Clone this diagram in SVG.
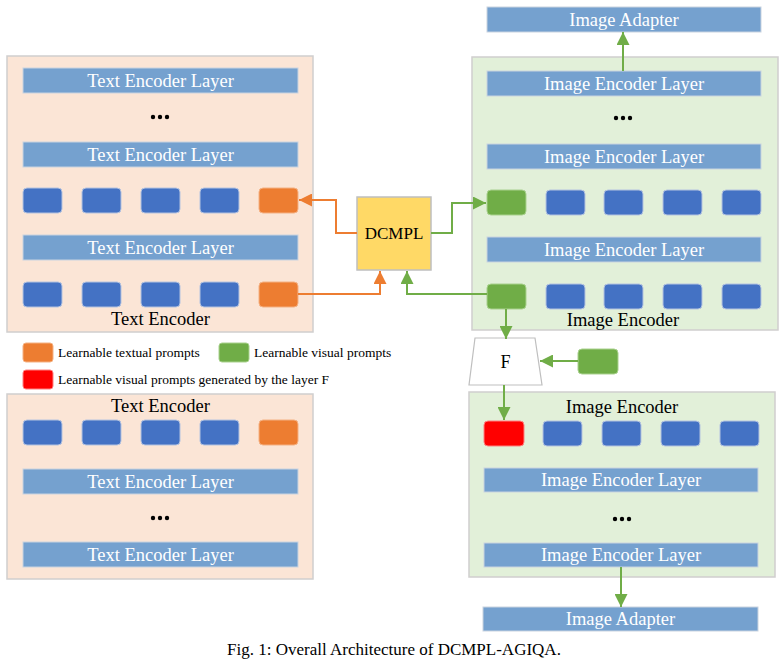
<svg xmlns="http://www.w3.org/2000/svg" width="784" height="662" viewBox="0 0 784 662">
<defs>
<style>
.tbox{fill:#FBE5D6;stroke:#D0CECE;stroke-width:1.5}
.ibox{fill:#E2F0D9;stroke:#D0CECE;stroke-width:1.5}
.layer{fill:#75A1CF;stroke:#C9D3E0;stroke-width:1}
.ltxt{font-family:"Liberation Serif",serif;font-size:18.5px;fill:#fff;text-anchor:middle}
.btxt{font-family:"Liberation Serif",serif;font-size:18.5px;fill:#000;text-anchor:middle}
.tok{fill:#4472C4;stroke:#B4C3E0;stroke-width:1}
.org{fill:#ED7D31;stroke:#F4B183;stroke-width:1}
.grn{fill:#70AD47;stroke:#A9D18E;stroke-width:1}
.red{fill:#FF0000;stroke:#FF8080;stroke-width:1}
.dots{fill:#000}
.leg{font-family:"Liberation Serif",serif;font-size:13.5px;fill:#000}
.oc{fill:none;stroke:#ED7D31;stroke-width:2}
.gc{fill:none;stroke:#70AD47;stroke-width:2}
</style>
<marker id="ao" viewBox="0 0 10 10" refX="10" refY="5" markerWidth="6.5" markerHeight="6.5" markerUnits="strokeWidth" orient="auto"><path d="M0,0 L10,5 L0,10 z" fill="#ED7D31"/></marker>
<marker id="ag" viewBox="0 0 10 10" refX="10" refY="5" markerWidth="6.5" markerHeight="6.5" markerUnits="strokeWidth" orient="auto"><path d="M0,0 L10,5 L0,10 z" fill="#70AD47"/></marker>
</defs>

<g id="text-encoder-top">
<rect class="tbox" x="7" y="56" width="306" height="276"/>
<rect class="layer" x="23" y="68" width="275" height="25"/>
<text class="ltxt" x="160.5" y="87">Text Encoder Layer</text>
<circle class="dots" cx="153" cy="117" r="2.2"/><circle class="dots" cx="160" cy="117" r="2.2"/><circle class="dots" cx="167" cy="117" r="2.2"/>
<rect class="layer" x="23" y="142" width="275" height="25"/>
<text class="ltxt" x="160.5" y="161">Text Encoder Layer</text>
<rect class="tok" x="23" y="188" width="39" height="25" rx="4"/>
<rect class="tok" x="82" y="188" width="39" height="25" rx="4"/>
<rect class="tok" x="141" y="188" width="39" height="25" rx="4"/>
<rect class="tok" x="200" y="188" width="39" height="25" rx="4"/>
<rect class="org" x="259" y="188" width="39" height="25" rx="4"/>
<rect class="layer" x="23" y="235" width="275" height="25"/>
<text class="ltxt" x="160.5" y="254">Text Encoder Layer</text>
<rect class="tok" x="23" y="282" width="39" height="25" rx="4"/>
<rect class="tok" x="82" y="282" width="39" height="25" rx="4"/>
<rect class="tok" x="141" y="282" width="39" height="25" rx="4"/>
<rect class="tok" x="200" y="282" width="39" height="25" rx="4"/>
<rect class="org" x="259" y="282" width="39" height="25" rx="4"/>
<text class="btxt" x="160.5" y="325">Text Encoder</text>
</g>

<g id="dcmpl">
<rect x="357" y="197" width="74" height="73" fill="#FFD966" stroke="#BFBFBF" stroke-width="1.5"/>
<text x="394" y="239" font-family="Liberation Serif, serif" font-size="17px" text-anchor="middle">DCMPL</text>
</g>

<g id="image-adapter-top">
<rect class="layer" x="487" y="7" width="274" height="25"/>
<text class="ltxt" x="624" y="26">Image Adapter</text>
</g>

<g id="image-encoder-top">
<rect class="ibox" x="472" y="57" width="306" height="273"/>
<rect class="layer" x="487" y="71" width="274" height="25"/>
<text class="ltxt" x="624" y="90">Image Encoder Layer</text>
<circle class="dots" cx="616" cy="118" r="2.2"/><circle class="dots" cx="623" cy="118" r="2.2"/><circle class="dots" cx="630" cy="118" r="2.2"/>
<rect class="layer" x="487" y="144" width="274" height="25"/>
<text class="ltxt" x="624" y="163">Image Encoder Layer</text>
<rect class="grn" x="487" y="190" width="39" height="25" rx="4"/>
<rect class="tok" x="546" y="190" width="39" height="25" rx="4"/>
<rect class="tok" x="604" y="190" width="39" height="25" rx="4"/>
<rect class="tok" x="663" y="190" width="39" height="25" rx="4"/>
<rect class="tok" x="722" y="190" width="39" height="25" rx="4"/>
<rect class="layer" x="487" y="237" width="274" height="25"/>
<text class="ltxt" x="624" y="256">Image Encoder Layer</text>
<rect class="grn" x="487" y="284" width="39" height="25" rx="4"/>
<rect class="tok" x="546" y="284" width="39" height="25" rx="4"/>
<rect class="tok" x="604" y="284" width="39" height="25" rx="4"/>
<rect class="tok" x="663" y="284" width="39" height="25" rx="4"/>
<rect class="tok" x="722" y="284" width="39" height="25" rx="4"/>
<text class="btxt" x="623" y="326">Image Encoder</text>
</g>

<g id="legend">
<rect class="org" x="23" y="343" width="30" height="19" rx="3"/>
<text class="leg" x="58" y="357">Learnable textual prompts</text>
<rect class="grn" x="219" y="343" width="30" height="19" rx="3"/>
<text class="leg" x="254" y="357">Learnable visual prompts</text>
<rect class="red" x="23" y="370" width="30" height="19" rx="3"/>
<text class="leg" x="58" y="384">Learnable visual prompts generated by the layer F</text>
</g>

<g id="f-layer">
<path d="M475,338 L535,338 L542,385 L469,385 Z" fill="#fff" stroke="#BFBFBF" stroke-width="1.2"/>
<text x="505.5" y="368" font-family="Liberation Serif, serif" font-size="18px" text-anchor="middle">F</text>
</g>

<g id="visual-prompt-input">
<rect class="grn" x="578" y="349" width="40" height="25" rx="4"/>
</g>

<g id="text-encoder-bottom">
<rect class="tbox" x="7" y="394" width="306" height="185"/>
<text class="btxt" x="160.5" y="412">Text Encoder</text>
<rect class="tok" x="23" y="420" width="39" height="25" rx="4"/>
<rect class="tok" x="82" y="420" width="39" height="25" rx="4"/>
<rect class="tok" x="141" y="420" width="39" height="25" rx="4"/>
<rect class="tok" x="200" y="420" width="39" height="25" rx="4"/>
<rect class="org" x="259" y="420" width="39" height="25" rx="4"/>
<rect class="layer" x="23" y="469" width="275" height="25"/>
<text class="ltxt" x="160.5" y="488">Text Encoder Layer</text>
<circle class="dots" cx="153" cy="518" r="2.2"/><circle class="dots" cx="160" cy="518" r="2.2"/><circle class="dots" cx="167" cy="518" r="2.2"/>
<rect class="layer" x="23" y="542" width="275" height="25"/>
<text class="ltxt" x="160.5" y="561">Text Encoder Layer</text>
</g>

<g id="image-encoder-bottom">
<rect class="ibox" x="469" y="392" width="306" height="185"/>
<text class="btxt" x="622" y="413">Image Encoder</text>
<rect class="red" x="484" y="421" width="40" height="25" rx="4"/>
<rect class="tok" x="543" y="421" width="39" height="25" rx="4"/>
<rect class="tok" x="602" y="421" width="39" height="25" rx="4"/>
<rect class="tok" x="661" y="421" width="39" height="25" rx="4"/>
<rect class="tok" x="720" y="421" width="39" height="25" rx="4"/>
<rect class="layer" x="484" y="468" width="274" height="24"/>
<text class="ltxt" x="621" y="486">Image Encoder Layer</text>
<circle class="dots" cx="615" cy="519" r="2.2"/><circle class="dots" cx="622" cy="519" r="2.2"/><circle class="dots" cx="629" cy="519" r="2.2"/>
<rect class="layer" x="484" y="543" width="274" height="24"/>
<text class="ltxt" x="621" y="561">Image Encoder Layer</text>
</g>

<g id="image-adapter-bottom">
<rect class="layer" x="483" y="607" width="275" height="24"/>
<text class="ltxt" x="620.5" y="625">Image Adapter</text>
</g>

<g id="connectors">
<path class="oc" d="M357,233 H336 V200 H299" marker-end="url(#ao)"/>
<path class="oc" d="M298,294 H380 V271" marker-end="url(#ao)"/>
<path class="gc" d="M431,233 H452 V203 H486" marker-end="url(#ag)"/>
<path class="gc" d="M487,294 H407 V271" marker-end="url(#ag)"/>
<path class="gc" d="M623,71 V32" marker-end="url(#ag)"/>
<path class="gc" d="M506,309 V339" marker-end="url(#ag)"/>
<path class="gc" d="M578,361 H540" marker-end="url(#ag)"/>
<path class="gc" d="M504,385 V420" marker-end="url(#ag)"/>
<path class="gc" d="M621,567 V607" marker-end="url(#ag)"/>
</g>

<text x="394" y="655" font-family="Liberation Serif, serif" font-size="17px" text-anchor="middle">Fig. 1: Overall Architecture of DCMPL-AGIQA.</text>
</svg>
